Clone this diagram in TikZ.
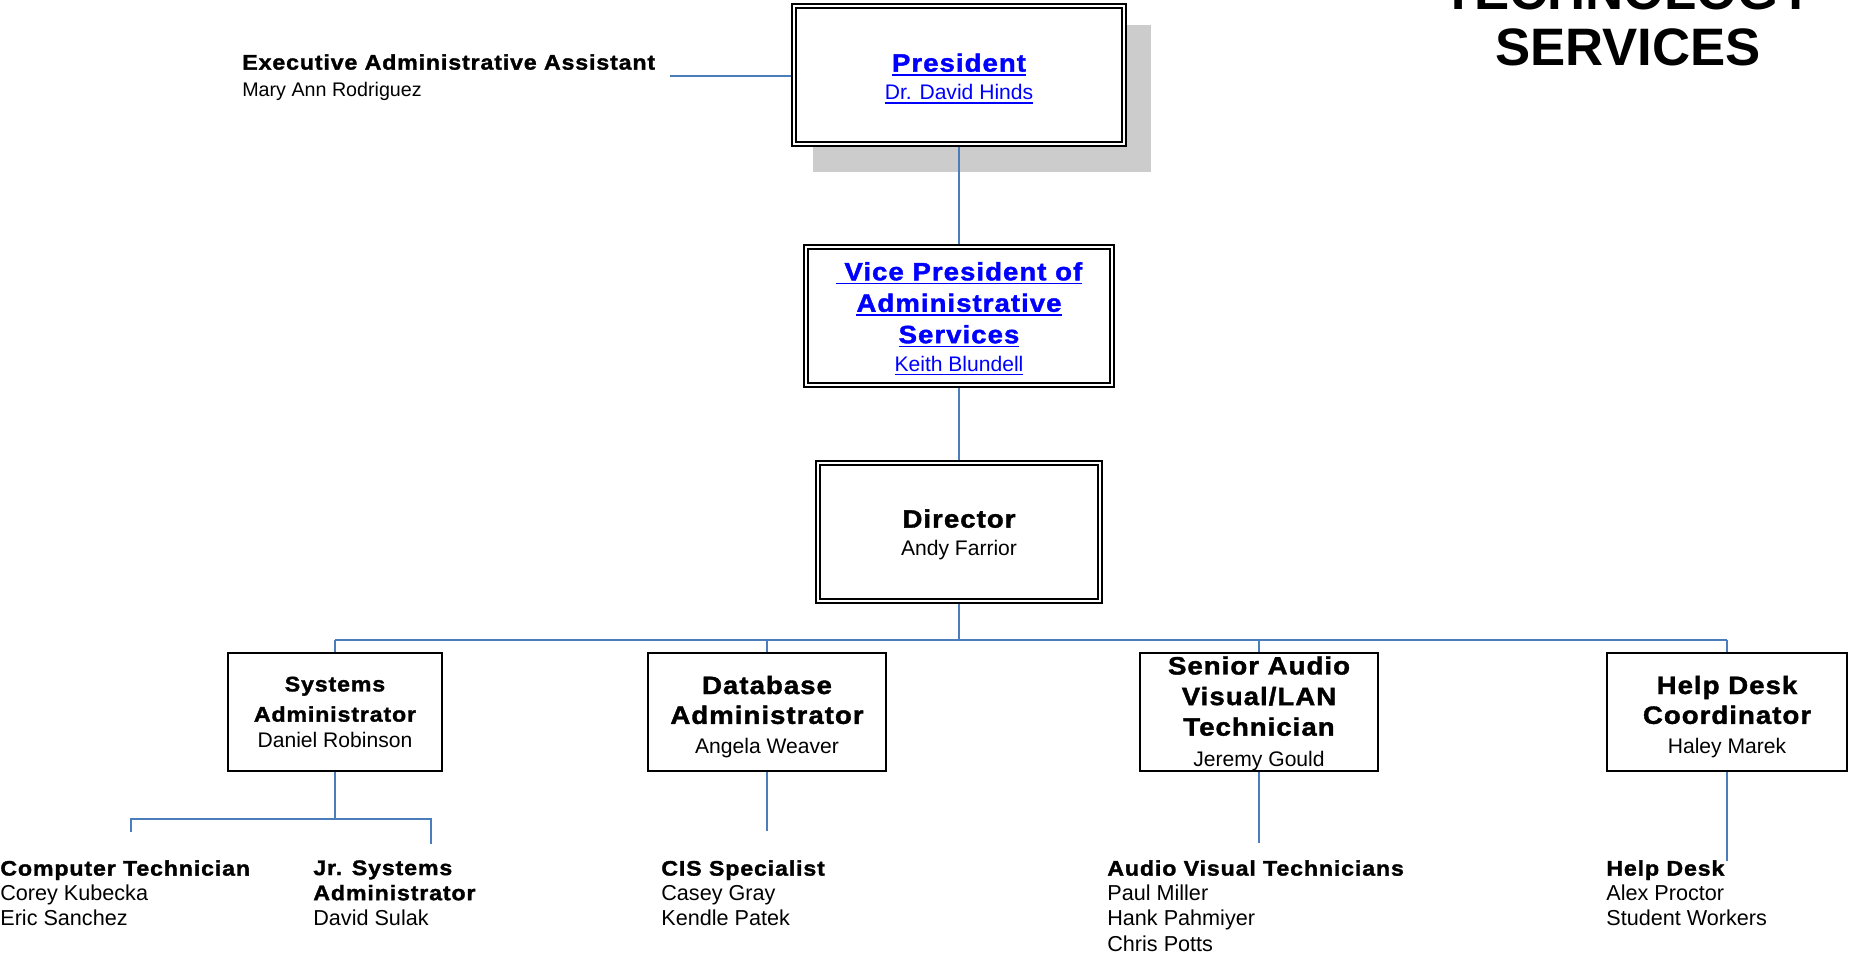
\documentclass[tikz,border=0pt]{standalone}
\usepackage{fontspec}
\setmainfont{Liberation Sans}
\newfontfamily\blk{Liberation Sans}[FakeStretch=1.1,LetterSpace=4,BoldFeatures={FakeBold=1.5}]
\usepackage{xcolor}
\usetikzlibrary{positioning}
\usetikzlibrary{backgrounds}
\definecolor{wireblue}{RGB}{74,126,187}
\definecolor{linkblue}{RGB}{0,0,255}
\newcommand{\hbig}{\blk\bfseries\fontsize{14.3}{\baselineskip}\selectfont}
\newcommand{\hsml}{\blk\bfseries\fontsize{12}{\baselineskip}\selectfont}
\newcommand{\nm}{\fontsize{12}{\baselineskip}\selectfont}
\newcommand{\nms}{\fontsize{11.2}{\baselineskip}\selectfont}
\newcommand{\topstrut}[1]{\rule{0pt}{#1}}
\newcommand{\lnk}[1]{\setbox0=\hbox{#1}\rlap{\rule[-2.3pt]{\wd0}{0.9pt}}\box0}

\begin{document}
\begin{tikzpicture}[
    x=0.02cm, y=-0.02cm,
    dblbox/.style={draw, double, line width=0.04cm, double distance=0.036cm, fill=white,
                   inner sep=0pt, outer sep=0pt, minimum height=2.76cm, align=center,
                   font=\fontsize{12}{16}\selectfont},
    unitbox/.style={draw, line width=0.045cm, fill=white, inner sep=0pt, outer sep=0pt,
                    minimum height=2.35cm, align=center, font=\fontsize{12}{17}\selectfont},
    wire/.style={draw=wireblue, line width=0.035cm},
    staff/.style={inner sep=0pt, anchor=north west, align=left, font=\fontsize{12.3}{14.3}\selectfont}
    ]
\useasboundingbox (0,0) rectangle (1849,955);
\clip (0,0) rectangle (1849,955);

\node[font=\bfseries\fontsize{30}{31.5}\selectfont, align=center, anchor=south] (title) at (1628,72) {TECHNOLOGY\\SERVICES};

\node[dblbox, minimum width=6.6cm, text=linkblue] (pres) at (959,75) {\hbig\topstrut{14.5pt}\lnk{President}\\\nm\lnk{Dr. David Hinds}};
\node[dblbox, minimum width=6.12cm, text=linkblue] (vp) at (959,316) {\hbig\topstrut{13.5pt}\lnk{\ Vice President of}\\[1.9pt]\hbig\lnk{Administrative}\\[1.9pt]\hbig\lnk{Services}\\\nm\lnk{Keith Blundell}};
\node[dblbox, minimum width=5.64cm] (dir) at (959,532) {\hbig\topstrut{13.5pt}Director\\\nm Andy Farrior};

\node[staff, font=\fontsize{12}{15.5}\selectfont] (exec) at (242,54) {\hsml Executive Administrative Assistant\\\nms Mary Ann Rodriguez};

\node[unitbox, minimum width=4.27cm, font=\fontsize{12}{14.5}\selectfont] (sysadm) at (335,712) {\hsml Systems\\[2.7pt]\hsml Administrator\\\nm Daniel Robinson};
\node[unitbox, minimum width=4.77cm] (dbadm) at (767,712) {\hbig\topstrut{16pt}Database\\\hbig Administrator\\\nm Angela Weaver};
\node[unitbox, minimum width=4.77cm, font=\fontsize{12}{17.4}\selectfont] (avlan) at (1259,712) {\hbig\topstrut{12pt}Senior Audio\\\hbig Visual/LAN\\\hbig Technician\\\nm Jeremy Gould};
\node[unitbox, minimum width=4.79cm] (helpcoord) at (1727,712) {\hbig\topstrut{16pt}Help Desk\\\hbig Coordinator\\\nm Haley Marek};

\node[staff] (comptech) at (0,860) {\hsml Computer Technician\\Corey Kubecka\\Eric Sanchez};
\node[staff] (jrsys) at (313,860) {\hsml Jr. Systems\\\hsml Administrator\\David Sulak};
\node[staff] (cis) at (661,860) {\hsml CIS Specialist\\Casey Gray\\Kendle Patek};
\node[staff] (avtech) at (1107,860) {\hsml Audio Visual Technicians\\Paul Miller\\Hank Pahmiyer\\Chris Potts};
\node[staff] (helpdesk) at (1606,860) {\hsml Help Desk\\Alex Proctor\\Student Workers};

\coordinate (execstub) at (670,76);
\coordinate (bus) at (959,640);
\coordinate (sysfork) at (335,819);
\coordinate (ctend) at (131,832);
\coordinate (jrend) at (431,844);
\coordinate (cisend) at (767,831);
\coordinate (avend) at (1259,843);
\coordinate (helpend) at (1727,861);

\begin{scope}[on background layer]
\fill[black!20] ([shift={(19,19)}]pres.north west) rectangle ([shift={(27,28)}]pres.south east);
\draw[wire] (execstub) -- (execstub -| pres.west);
\draw[wire] (pres.south) -- (vp.north);
\draw[wire] (vp.south) -- (dir.north);
\draw[wire] (dir.south) -- (bus);
\draw[wire] (sysadm.north |- bus) -- (helpcoord.north |- bus);
\foreach \u in {sysadm,dbadm,avlan,helpcoord}
  \draw[wire] (\u.north |- bus) -- (\u.north);
\draw[wire] (sysadm.south) -- (sysfork);
\draw[wire] (ctend) |- (sysfork) -| (jrend);
\draw[wire] (dbadm.south) -- (cisend);
\draw[wire] (avlan.south) -- (avend);
\draw[wire] (helpcoord.south) -- (helpend);
\end{scope}
\end{tikzpicture}
\end{document}
